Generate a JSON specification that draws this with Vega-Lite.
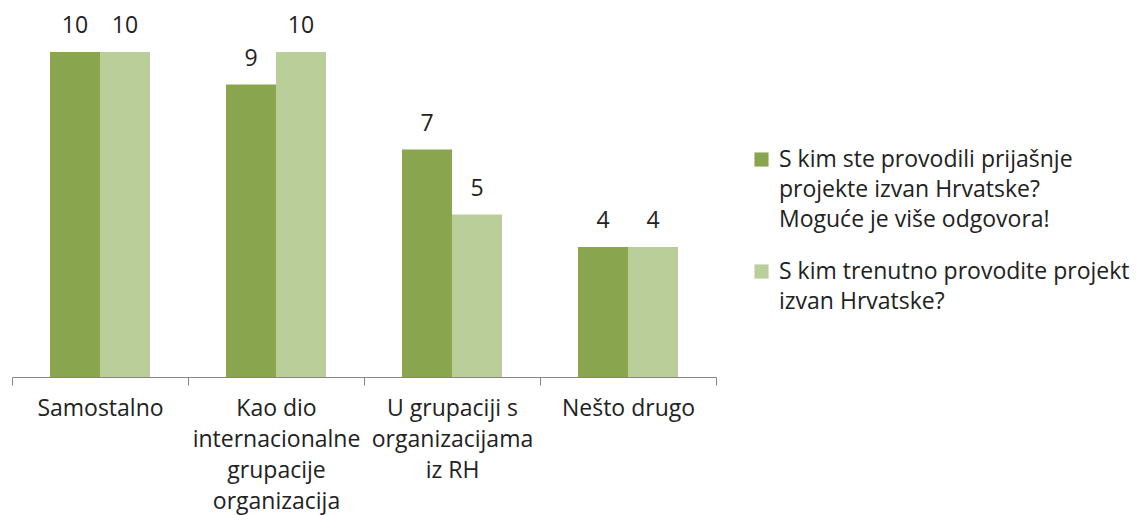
{
  "$schema": "https://vega.github.io/schema/vega-lite/v6.json",
  "autosize": "none",
  "width": 704,
  "height": 325,
  "padding": {"left": 12, "top": 52, "right": 421, "bottom": 138},
  "background": "white",
  "config": {
    "view": {"stroke": null},
    "font": "Open Sans",
    "text": {"font": "Open Sans"}
  },
  "data": {
    "values": [
      {"kategorija": "Samostalno", "serija": "S kim ste provodili prijašnje projekte izvan Hrvatske? Moguće je više odgovora!", "broj": 10},
      {"kategorija": "Samostalno", "serija": "S kim trenutno provodite projekt izvan Hrvatske?", "broj": 10},
      {"kategorija": "Kao dio internacionalne grupacije organizacija", "serija": "S kim ste provodili prijašnje projekte izvan Hrvatske? Moguće je više odgovora!", "broj": 9},
      {"kategorija": "Kao dio internacionalne grupacije organizacija", "serija": "S kim trenutno provodite projekt izvan Hrvatske?", "broj": 10},
      {"kategorija": "U grupaciji s organizacijama iz RH", "serija": "S kim ste provodili prijašnje projekte izvan Hrvatske? Moguće je više odgovora!", "broj": 7},
      {"kategorija": "U grupaciji s organizacijama iz RH", "serija": "S kim trenutno provodite projekt izvan Hrvatske?", "broj": 5},
      {"kategorija": "Nešto drugo", "serija": "S kim ste provodili prijašnje projekte izvan Hrvatske? Moguće je više odgovora!", "broj": 4},
      {"kategorija": "Nešto drugo", "serija": "S kim trenutno provodite projekt izvan Hrvatske?", "broj": 4}
    ]
  },
  "encoding": {
    "x": {
      "field": "kategorija",
      "type": "nominal",
      "sort": null,
      "scale": {"paddingInner": 0, "paddingOuter": 0},
      "axis": {
        "title": null,
        "labelAngle": 0,
        "labelFont": "Open Sans",
        "labelFontSize": 23,
        "labelColor": "#222222",
        "labelBaseline": "top",
        "labelLineHeight": 31,
        "labelPadding": 12,
        "labelExpr": "datum.value == 'Kao dio internacionalne grupacije organizacija' ? ['Kao dio', 'internacionalne', 'grupacije', 'organizacija'] : datum.value == 'U grupaciji s organizacijama iz RH' ? ['U grupaciji s', 'organizacijama', 'iz RH'] : datum.value",
        "tickBand": "extent",
        "tickSize": 8,
        "tickColor": "#868686",
        "domainColor": "#868686",
        "labelOverlap": false,
        "labelBound": false,
        "labelFlush": false
      }
    },
    "xOffset": {
      "field": "serija",
      "type": "nominal",
      "sort": ["S kim ste provodili prijašnje projekte izvan Hrvatske? Moguće je više odgovora!", "S kim trenutno provodite projekt izvan Hrvatske?"],
      "scale": {"paddingInner": 0, "paddingOuter": 0.76}
    },
    "y": {
      "field": "broj",
      "type": "quantitative",
      "scale": {"domain": [0, 10], "nice": false},
      "axis": null
    }
  },
  "layer": [
    {
      "mark": {"type": "bar"},
      "encoding": {
        "color": {
          "field": "serija",
          "type": "nominal",
          "sort": ["S kim ste provodili prijašnje projekte izvan Hrvatske? Moguće je više odgovora!", "S kim trenutno provodite projekt izvan Hrvatske?"],
          "scale": {
            "domain": ["S kim ste provodili prijašnje projekte izvan Hrvatske? Moguće je više odgovora!", "S kim trenutno provodite projekt izvan Hrvatske?"],
            "range": ["#89A54E", "#B9CE98"]
          },
          "legend": {
            "title": null,
            "orient": "none",
            "legendX": 738,
            "legendY": 96,
            "symbolType": "square",
            "symbolSize": 200,
            "symbolStrokeWidth": 0,
            "labelFont": "Open Sans",
            "labelFontSize": 23,
            "labelColor": "#222222",
            "labelLimit": 400,
            "labelOffset": 6,
            "rowPadding": 28,
            "encode": {"labels": {"update": {"lineHeight": {"value": 30}}}},
            "labelExpr": "datum.value == 'S kim trenutno provodite projekt izvan Hrvatske?' ? ['S kim trenutno provodite projekt', 'izvan Hrvatske?'] : ['S kim ste provodili prijašnje', 'projekte izvan Hrvatske?', 'Moguće je više odgovora!']"
          }
        }
      }
    },
    {
      "mark": {"type": "text", "baseline": "alphabetic", "dy": -19, "fontSize": 23, "color": "#222222", "font": "Open Sans"},
      "encoding": {
        "text": {"field": "broj", "type": "quantitative"}
      }
    }
  ]
}
